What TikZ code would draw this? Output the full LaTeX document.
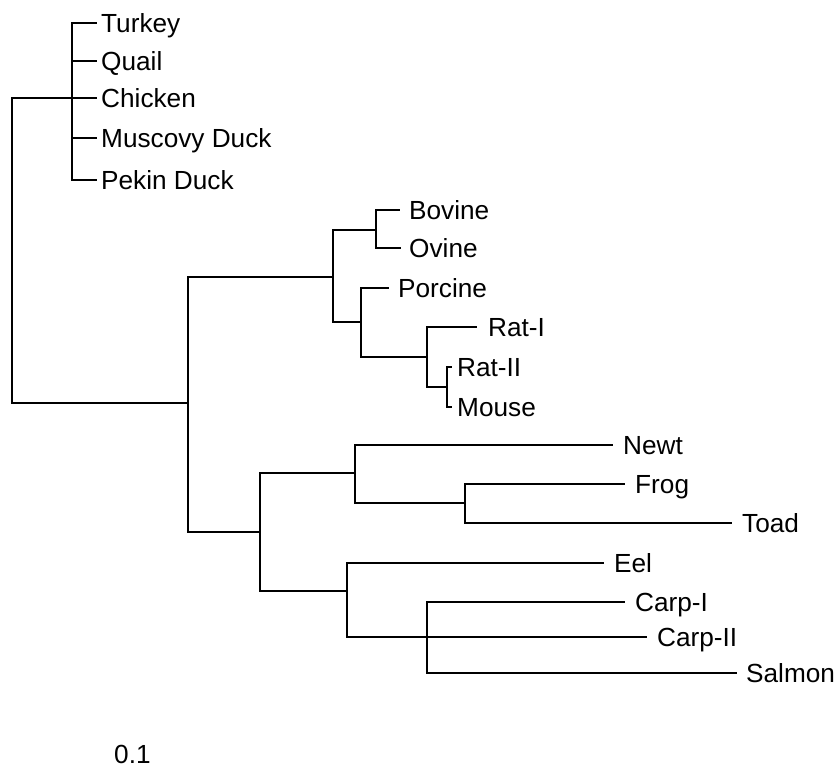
\documentclass[tikz,border=0pt]{standalone}
\usepackage{fontspec}
\setmainfont{Liberation Sans}
\begin{document}
\begin{tikzpicture}[x=1pt,y=-1pt,
  branch/.style={line width=2.4pt,line join=miter},
  lab/.style={anchor=base west,inner sep=0pt,font=\fontsize{26.2}{30}\selectfont}]
\useasboundingbox (0,0) rectangle (839,771);
% internal nodes
\coordinate (r) at (12,250);
\coordinate (nB) at (72,98);
\coordinate (n1) at (188,403);
\coordinate (n2) at (333,277);
\coordinate (nBO) at (376,230);
\coordinate (nP) at (361,322);
\coordinate (nR) at (427,357);
\coordinate (nRM) at (447,387);
\coordinate (n3) at (260,532);
\coordinate (nA) at (355,473);
\coordinate (nFT) at (465,503);
\coordinate (nF) at (347,591);
\coordinate (nC) at (427,637);
% leaf tips
\coordinate (tTurkey) at (97,23);
\coordinate (tQuail) at (97,61);
\coordinate (tChicken) at (97,98);
\coordinate (tMuscovy) at (97,138);
\coordinate (tPekin) at (97,180);
\coordinate (tBovine) at (400,210);
\coordinate (tOvine) at (401,248);
\coordinate (tPorcine) at (389,288);
\coordinate (tRatI) at (477,327);
\coordinate (tRatII) at (452,367);
\coordinate (tMouse) at (452,407);
\coordinate (tNewt) at (613,445);
\coordinate (tFrog) at (625,484);
\coordinate (tToad) at (732,523);
\coordinate (tEel) at (604,563);
\coordinate (tCarpI) at (625,602);
\coordinate (tCarpII) at (647,637);
\coordinate (tSalmon) at (737,673);
% branches
\draw[branch] (r) |- (nB);
\draw[branch] (r) |- (n1);
\foreach \t in {tTurkey,tQuail,tChicken,tMuscovy,tPekin} \draw[branch] (nB) |- (\t);
\draw[branch] (n1) |- (n2);
\draw[branch] (n1) |- (n3);
\draw[branch] (n2) |- (nBO);
\draw[branch] (n2) |- (nP);
\draw[branch] (nBO) |- (tBovine);
\draw[branch] (nBO) |- (tOvine);
\draw[branch] (nP) |- (tPorcine);
\draw[branch] (nP) |- (nR);
\draw[branch] (nR) |- (tRatI);
\draw[branch] (nR) |- (nRM);
\draw[branch] (nRM) |- (tRatII);
\draw[branch] (nRM) |- (tMouse);
\draw[branch] (n3) |- (nA);
\draw[branch] (n3) |- (nF);
\draw[branch] (nA) |- (tNewt);
\draw[branch] (nA) |- (nFT);
\draw[branch] (nFT) |- (tFrog);
\draw[branch] (nFT) |- (tToad);
\draw[branch] (nF) |- (tEel);
\draw[branch] (nF) |- (nC);
\draw[branch] (nC) |- (tCarpI);
\draw[branch] (nC) |- (tCarpII);
\draw[branch] (nC) |- (tSalmon);
% labels
\node[lab] (lTurkey) at (101,32) {Turkey};
\node[lab] (lQuail) at (101,70) {Quail};
\node[lab] (lChicken) at (101,107) {Chicken};
\node[lab] (lMuscovy) at (101,147) {Muscovy Duck};
\node[lab] (lPekin) at (101,189) {Pekin Duck};
\node[lab] (lBovine) at (409,219) {Bovine};
\node[lab] (lOvine) at (409,257) {Ovine};
\node[lab] (lPorcine) at (398,297) {Porcine};
\node[lab] (lRatI) at (488,336) {Rat-I};
\node[lab] (lRatII) at (457,376) {Rat-II};
\node[lab] (lMouse) at (457,416) {Mouse};
\node[lab] (lNewt) at (623,454) {Newt};
\node[lab] (lFrog) at (635,493) {Frog};
\node[lab] (lToad) at (742,532) {Toad};
\node[lab] (lEel) at (614,572) {Eel};
\node[lab] (lCarpI) at (635,611) {Carp-I};
\node[lab] (lCarpII) at (657,646) {Carp-II};
\node[lab] (lSalmon) at (746,682) {Salmon};
\node[lab] (scale) at (114,763) {0.1};
\end{tikzpicture}
\end{document}
